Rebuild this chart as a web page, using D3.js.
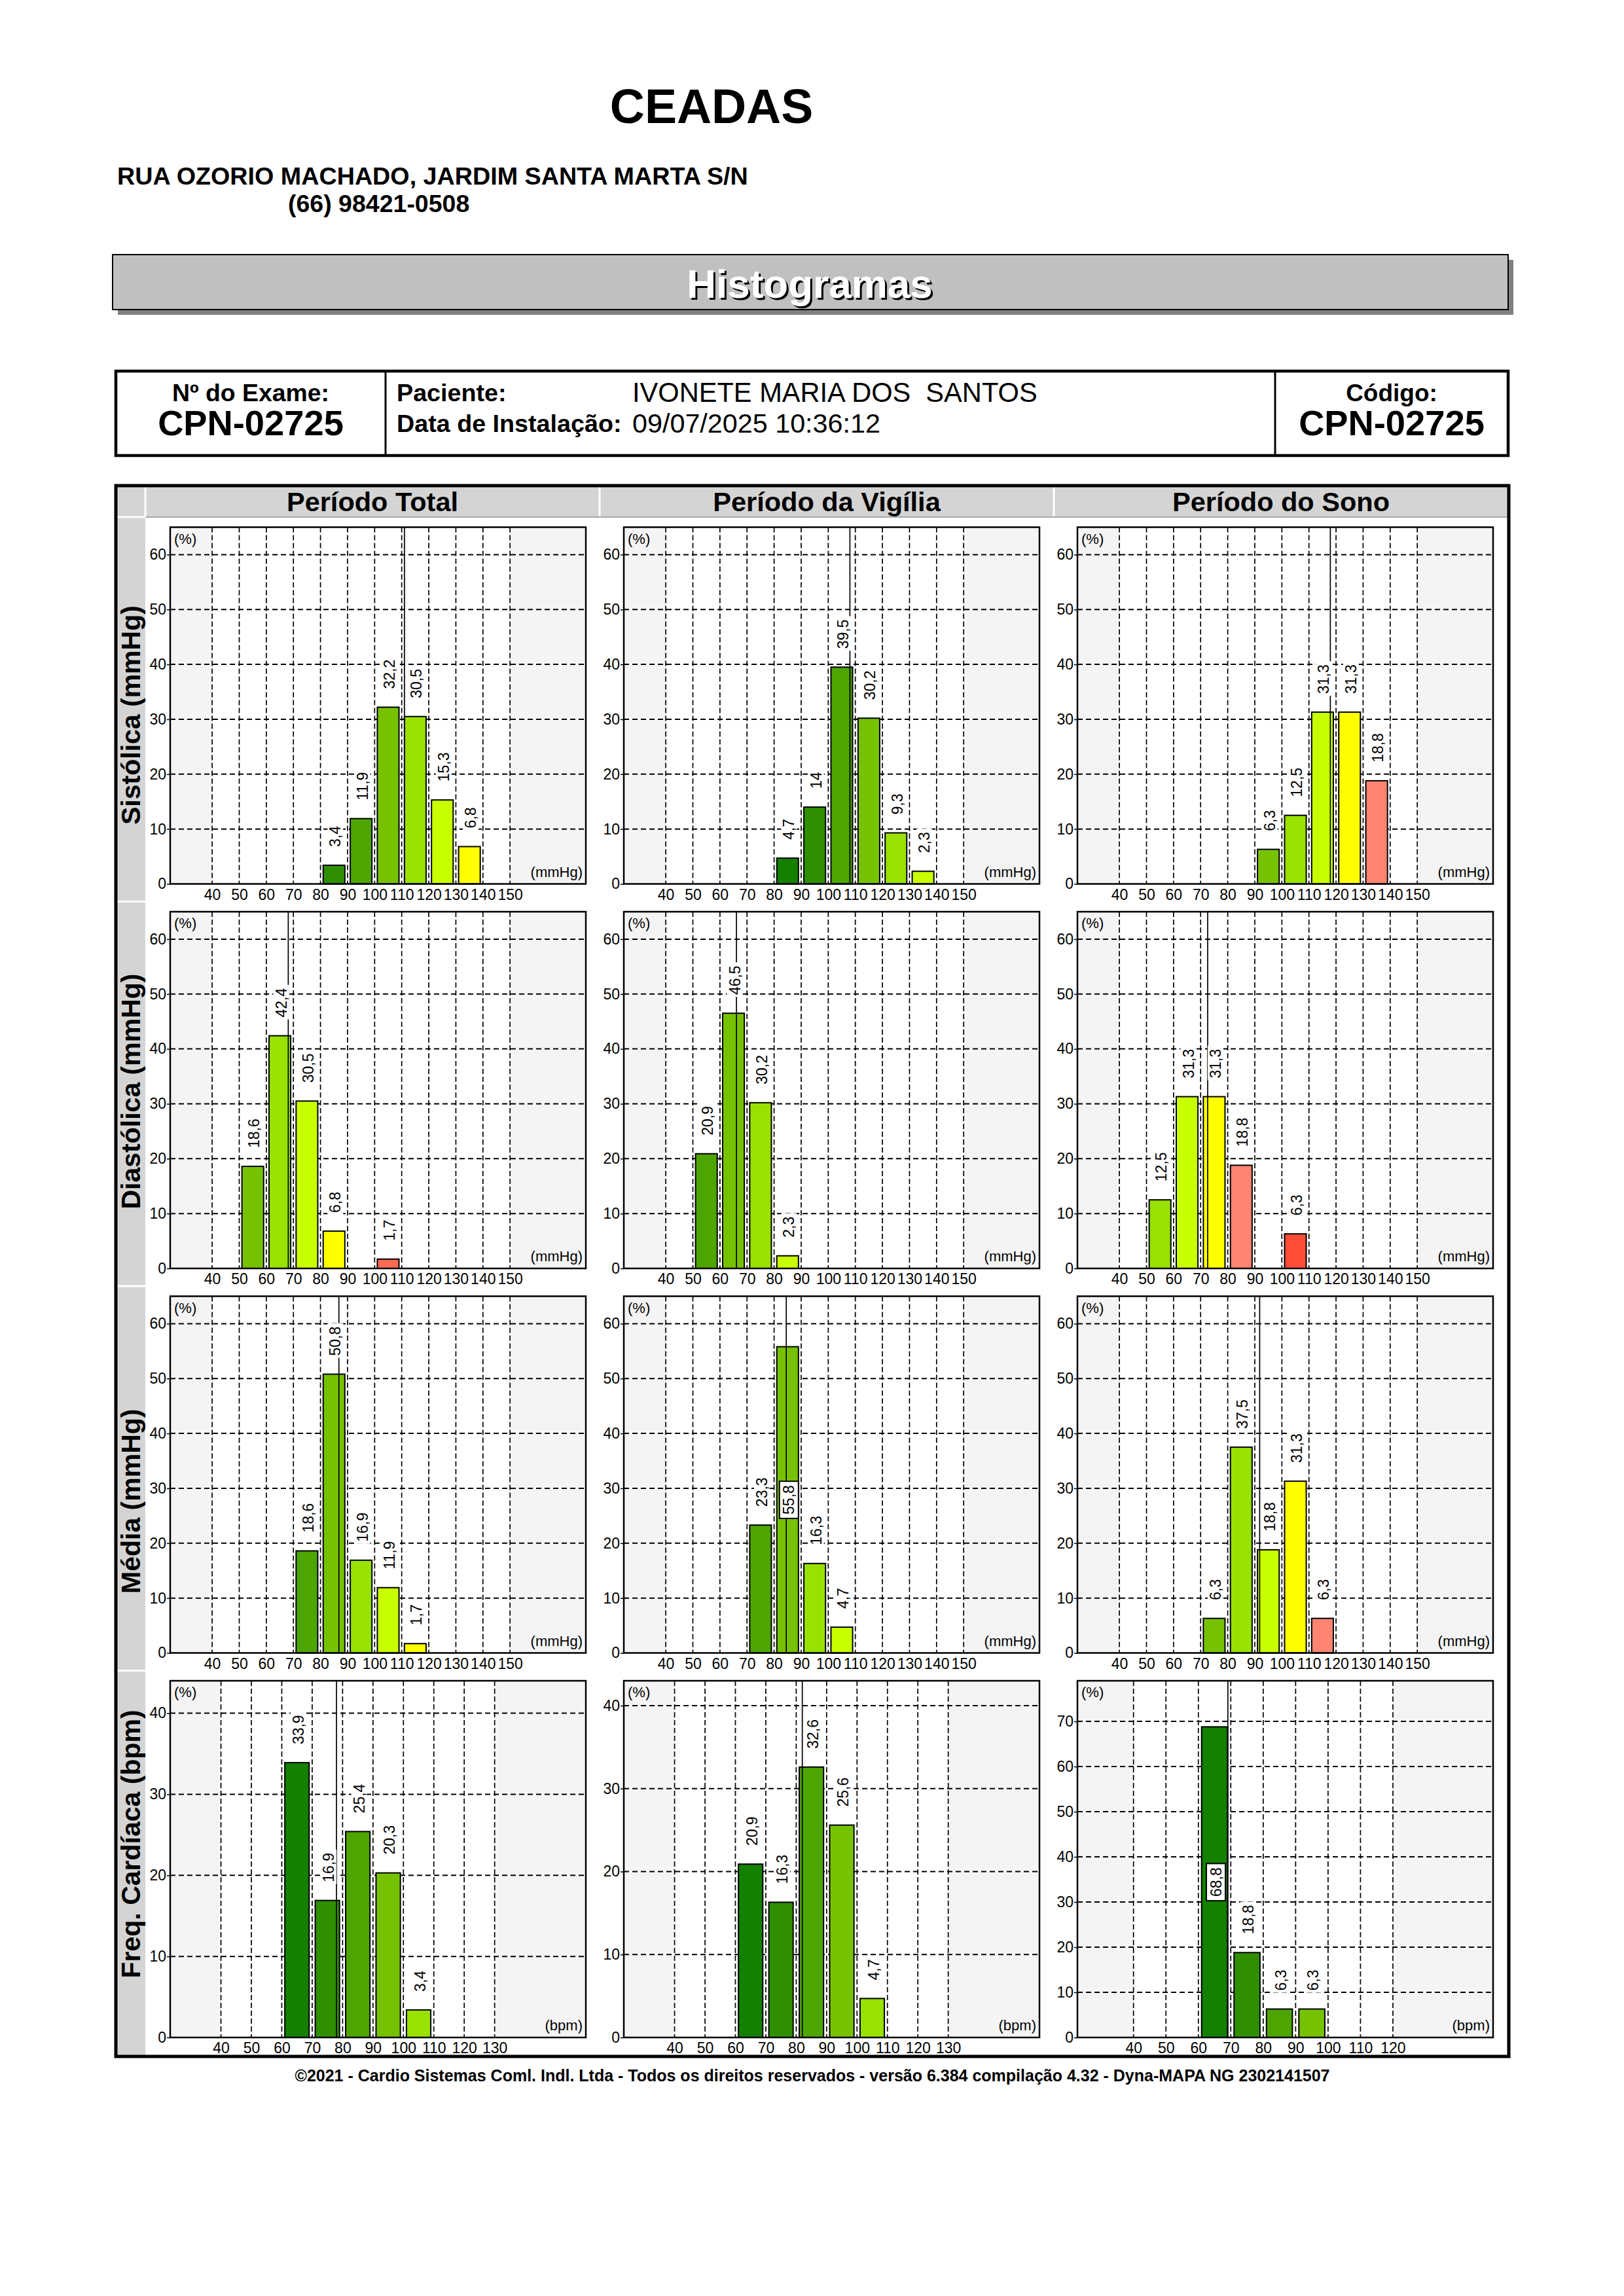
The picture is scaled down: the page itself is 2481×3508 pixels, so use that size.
<!DOCTYPE html>
<html>
<head>
<meta charset="utf-8">
<script src="https://cdnjs.cloudflare.com/ajax/libs/d3/7.8.5/d3.min.js"></script>
<style>
  body { margin: 0; background: #fff; }
  svg { display: block; }
</style>
</head>
<body>
<svg id="chart" width="2481" height="3508"></svg>
<script>
// ------------------------- DATA -------------------------
const clinicName = "CEADAS";
const address = "RUA OZORIO MACHADO, JARDIM SANTA MARTA S/N";
const phone = "(66) 98421-0508";
const examNo = "CPN-02725";
const patient = "IVONETE MARIA DOS  SANTOS";
const installDate = "09/07/2025 10:36:12";
const patientCode = "CPN-02725";
const footerText = "©2021 - Cardio Sistemas Coml. Indl. Ltda - Todos os direitos reservados - versão 6.384 compilação 4.32 - Dyna-MAPA NG 2302141507";

const periods = ["Período Total", "Período da Vigília", "Período do Sono"];
const rowLabels = ["Sistólica (mmHg)", "Diastólica (mmHg)", "Média (mmHg)", "Freq. Cardíaca (bpm)"];
const units = ["(mmHg)", "(mmHg)", "(mmHg)", "(bpm)"];

// bins (lower edge of 10-unit class) and percentages per period
const sysBins   = [[80, 90, 100, 110, 120, 130], [80, 90, 100, 110, 120, 130], [90, 100, 110, 120, 130]];
const sysValues = [[3.4, 11.9, 32.2, 30.5, 15.3, 6.8], [4.7, 14, 39.5, 30.2, 9.3, 2.3], [6.3, 12.5, 31.3, 31.3, 18.8]];
const sysMeans  = [111.0, 108.0, 117.9];

const diaBins   = [[50, 60, 70, 80, 100], [50, 60, 70, 80], [50, 60, 70, 80, 100]];
const diaValues = [[18.6, 42.4, 30.5, 6.8, 1.7], [20.9, 46.5, 30.2, 2.3], [12.5, 31.3, 31.3, 18.8, 6.3]];
const diaMeans  = [68.1, 66.1, 72.6];

const medBins   = [[70, 80, 90, 100, 110], [70, 80, 90, 100], [70, 80, 90, 100, 110]];
const medValues = [[18.6, 50.8, 16.9, 11.9, 1.7], [23.3, 55.8, 16.3, 4.7], [6.3, 37.5, 18.8, 31.3, 6.3]];
const medMeans  = [86.8, 84.5, 91.8];

const hrBins    = [[60, 70, 80, 90, 100], [60, 70, 80, 90, 100], [60, 70, 80, 90]];
const hrValues  = [[33.9, 16.9, 25.4, 20.3, 3.4], [20.9, 16.3, 32.6, 25.6, 4.7], [68.8, 18.8, 6.3, 6.3]];
const hrMeans   = [78.0, 82.0, 69.1];

// axis ticks and ranges
const bpTicksX = [40, 50, 60, 70, 80, 90, 100, 110, 120, 130, 140, 150];
const bpTicksY = [0, 10, 20, 30, 40, 50, 60];
const bpDomainX = [24.5, 178];
const bpDomainY = [0, 65];
const hrTicksX = [[40, 50, 60, 70, 80, 90, 100, 110, 120, 130], [40, 50, 60, 70, 80, 90, 100, 110, 120, 130], [40, 50, 60, 70, 80, 90, 100, 110, 120]];
const hrTicksY = [[0, 10, 20, 30, 40], [0, 10, 20, 30, 40], [0, 10, 20, 30, 40, 50, 60, 70]];
const hrDomainX = [[23.3, 160], [23.3, 160], [22.7, 150.9]];
const hrDomainY = [[0, 44], [0, 43], [0, 79]];

// ------------------------- STYLE -------------------------
const FONT = '"Liberation Sans", Arial, Helvetica, sans-serif';
const palette = ['#138000', '#2f8f00', '#4ea400', '#77c200', '#98e100', '#c8ff00', '#ffff00', '#ff8472', '#ff6a55', '#ff4d38'];
// bin value whose colour is palette[0], per row / period
const colorStart = [[70, 80, 60], [20, 30, 10], [50, 50, 40], [60, 60, 60]];

const svg = d3.select('#chart');
svg.append('rect').attr('width', 2481).attr('height', 3508).attr('fill', '#fff');

function txt(g, x, y, s, size, weight, anchor) {
  return g.append('text').attr('x', x).attr('y', y).text(s)
    .attr('font-family', FONT).attr('font-size', size)
    .attr('font-weight', weight || 'normal')
    .attr('text-anchor', anchor || 'start')
    .style('white-space', 'pre');
}

// ------------------------- HEADER -------------------------
txt(svg, 1087, 188, clinicName, 73.5, 'bold', 'middle');
txt(svg, 179, 282, address, 37.7, 'bold');
txt(svg, 440, 324, phone, 37.5, 'bold');

// Histogramas band
svg.append('rect').attr('x', 180).attr('y', 397).attr('width', 2132).attr('height', 84).attr('fill', '#808080');
svg.append('rect').attr('x', 172).attr('y', 389).attr('width', 2132).attr('height', 84)
  .attr('fill', '#c0c0c0').attr('stroke', '#000').attr('stroke-width', 2);
txt(svg, 1240, 458, 'Histogramas', 62, 'bold', 'middle').attr('fill', '#000');
txt(svg, 1237, 455, 'Histogramas', 62, 'bold', 'middle').attr('fill', '#fff');

// info box
svg.append('rect').attr('x', 177).attr('y', 567).attr('width', 2127).attr('height', 129)
  .attr('fill', '#fff').attr('stroke', '#000').attr('stroke-width', 4.5);
[589, 1948].forEach(xv => svg.append('line').attr('x1', xv).attr('x2', xv).attr('y1', 567).attr('y2', 696)
  .attr('stroke', '#000').attr('stroke-width', 3));
txt(svg, 383, 613, 'Nº do Exame:', 37.4, 'bold', 'middle');
txt(svg, 383, 665, examNo, 54.3, 'bold', 'middle');
txt(svg, 606, 613, 'Paciente:', 37.7, 'bold');
txt(svg, 606, 660, 'Data de Instalação:', 37.7, 'bold');
txt(svg, 966, 614, patient, 41.6, 'normal');
txt(svg, 966, 661, installDate, 41.3, 'normal');
txt(svg, 2126, 613, 'Código:', 37, 'bold', 'middle');
txt(svg, 2126, 665, patientCode, 54.3, 'bold', 'middle');

// ------------------------- CHART TABLE -------------------------
const tblL = 177, tblR = 2305, tblT = 742, tblB = 3142;
const headB = 790, labelR = 222, colW = 694, rowH = 587.5;
const colLefts = [222, 916, 1610];
const frameLefts = [260, 953, 1646];
const frameW = 635, frameH = 545;
const rowTops = [0, 1, 2, 3].map(i => headB + i * rowH);

svg.append('rect').attr('x', tblL).attr('y', tblT).attr('width', tblR - tblL).attr('height', headB - tblT).attr('fill', '#d4d4d4');
svg.append('rect').attr('x', tblL).attr('y', headB).attr('width', labelR - tblL).attr('height', tblB - headB).attr('fill', '#d4d4d4');
// separators
[labelR, 916, 1610].forEach(xv => svg.append('line').attr('x1', xv).attr('x2', xv).attr('y1', tblT).attr('y2', headB)
  .attr('stroke', '#fff').attr('stroke-width', 3));
svg.append('line').attr('x1', labelR).attr('x2', tblR).attr('y1', headB).attr('y2', headB).attr('stroke', '#a8a8a8').attr('stroke-width', 2);
svg.append('line').attr('x1', tblL).attr('x2', labelR).attr('y1', headB).attr('y2', headB).attr('stroke', '#fff').attr('stroke-width', 3);
rowTops.slice(1).forEach(yv => svg.append('line').attr('x1', tblL).attr('x2', labelR).attr('y1', yv).attr('y2', yv)
  .attr('stroke', '#fff').attr('stroke-width', 3));

periods.forEach((p, j) => txt(svg, colLefts[j] + colW / 2, 781, p, 41.5, 'bold', 'middle'));
rowLabels.forEach((r, i) => {
  svg.append('text').text(r)
    .attr('transform', `translate(200,${rowTops[i] + 470}) rotate(-90)`)
    .attr('dy', '0.35em')
    .attr('font-family', FONT).attr('font-size', 41).attr('font-weight', 'bold')
    .attr('text-anchor', 'start');
});

const fmt = v => Number.isInteger(v) ? String(v) : v.toFixed(1).replace('.', ',');

const rowsData = [
  { bins: sysBins, values: sysValues, means: sysMeans },
  { bins: diaBins, values: diaValues, means: diaMeans },
  { bins: medBins, values: medValues, means: medMeans },
  { bins: hrBins, values: hrValues, means: hrMeans }
];

function drawPanel(i, j) {
  const rd = rowsData[i];
  const isHR = i === 3;
  const xt = isHR ? hrTicksX[j] : bpTicksX;
  const yt = isHR ? hrTicksY[j] : bpTicksY;
  const xd = isHR ? hrDomainX[j] : bpDomainX;
  const yd = isHR ? hrDomainY[j] : bpDomainY;
  const fl = frameLefts[j], ft = rowTops[i] + 15.5;
  const x = d3.scaleLinear().domain(xd).range([fl, fl + frameW]);
  const y = d3.scaleLinear().domain(yd).range([ft + frameH, ft]);
  const g = svg.append('g');

  // backgrounds
  g.append('rect').attr('x', fl).attr('y', ft).attr('width', frameW).attr('height', frameH).attr('fill', '#f4f4f4');
  g.append('rect').attr('x', x(xt[0])).attr('y', ft).attr('width', x(xt[xt.length - 1]) - x(xt[0])).attr('height', frameH).attr('fill', '#fff');

  // grid
  g.selectAll('.hg').data(yt.filter(d => d > 0)).join('line')
    .attr('x1', fl).attr('x2', fl + frameW).attr('y1', d => y(d)).attr('y2', d => y(d))
    .attr('stroke', '#000').attr('stroke-width', 2).attr('stroke-dasharray', '8,5');
  g.selectAll('.vg').data(xt).join('line')
    .attr('x1', d => x(d)).attr('x2', d => x(d)).attr('y1', ft).attr('y2', ft + frameH)
    .attr('stroke', '#000').attr('stroke-width', 1.7).attr('stroke-dasharray', '8,4');

  const bars = rd.bins[j].map((b, k) => ({ bin: b, v: rd.values[j][k] }));
  const bw = x(10) - x(0);
  const inset = bw * 0.1;
  g.selectAll('.bar').data(bars).join('rect')
    .attr('x', d => x(d.bin) + inset)
    .attr('width', bw - 2 * inset)
    .attr('y', d => y(d.v))
    .attr('height', d => y(0) - y(d.v))
    .attr('fill', d => palette[(d.bin - colorStart[i][j]) / 10])
    .attr('stroke', '#000').attr('stroke-width', 2);

  // mean line
  g.append('line').attr('x1', x(rd.means[j])).attr('x2', x(rd.means[j]))
    .attr('y1', ft).attr('y2', ft + frameH).attr('stroke', '#000').attr('stroke-width', 1.7);

  // value labels
  const LS = 23, GAP = 28;
  bars.forEach(d => {
    const s = fmt(d.v);
    const probe = g.append('text').text(s).attr('font-family', FONT).attr('font-size', LS);
    const len = probe.node().getComputedTextLength();
    probe.remove();
    const cx = x(d.bin + 5) + 2;
    const top = y(d.v);
    if (top - GAP - len - 10 < ft) {
      const cy = y(d.v / 2);
      g.append('rect').attr('x', cx - 14.5).attr('y', cy - len / 2 - 6).attr('width', 29).attr('height', len + 12)
        .attr('fill', '#fff').attr('stroke', '#000').attr('stroke-width', 2);
      g.append('text').text(s).attr('transform', `translate(${cx},${cy}) rotate(-90)`)
        .attr('dy', '0.35em').attr('text-anchor', 'middle')
        .attr('font-family', FONT).attr('font-size', LS);
    } else {
      const y0 = top - GAP;
      g.append('rect').attr('x', cx - 12).attr('y', y0 - len - 5).attr('width', 24).attr('height', len + 8)
        .attr('fill', '#fff');
      g.append('text').text(s).attr('transform', `translate(${cx},${y0}) rotate(-90)`)
        .attr('dy', '0.35em').attr('text-anchor', 'start')
        .attr('font-family', FONT).attr('font-size', LS);
    }
  });

  // frame
  g.append('rect').attr('x', fl).attr('y', ft).attr('width', frameW).attr('height', frameH)
    .attr('fill', 'none').attr('stroke', '#000').attr('stroke-width', 2.5);

  // axes
  const ga = g.append('g').attr('transform', `translate(${fl},0)`)
    .call(d3.axisLeft(y).tickValues(yt).tickSize(5).tickPadding(1).tickFormat(d3.format('d')));
  ga.select('.domain').remove();
  ga.attr('font-family', FONT).attr('font-size', 23);
  ga.selectAll('line').attr('stroke', '#000').attr('stroke-width', 1.5);

  const gx = g.append('g').attr('transform', `translate(0,${ft + frameH})`)
    .call(d3.axisBottom(x).tickValues(xt).tickSize(0).tickPadding(8).tickFormat(d3.format('d')));
  gx.select('.domain').remove();
  gx.attr('font-family', FONT).attr('font-size', 23);

  txt(g, fl + 6, ft + 25, '(%)', 22, 'normal');
  txt(g, fl + frameW - 5, ft + frameH - 11, units[i], 22, 'normal', 'end');
}

for (let i = 0; i < 4; i++) for (let j = 0; j < 3; j++) drawPanel(i, j);

// outer border
svg.append('rect').attr('x', tblL).attr('y', tblT).attr('width', tblR - tblL).attr('height', tblB - tblT)
  .attr('fill', 'none').attr('stroke', '#000').attr('stroke-width', 5);

// footer
txt(svg, 1241, 3180, footerText, 25, 'bold', 'middle');
</script>
</body>
</html>
